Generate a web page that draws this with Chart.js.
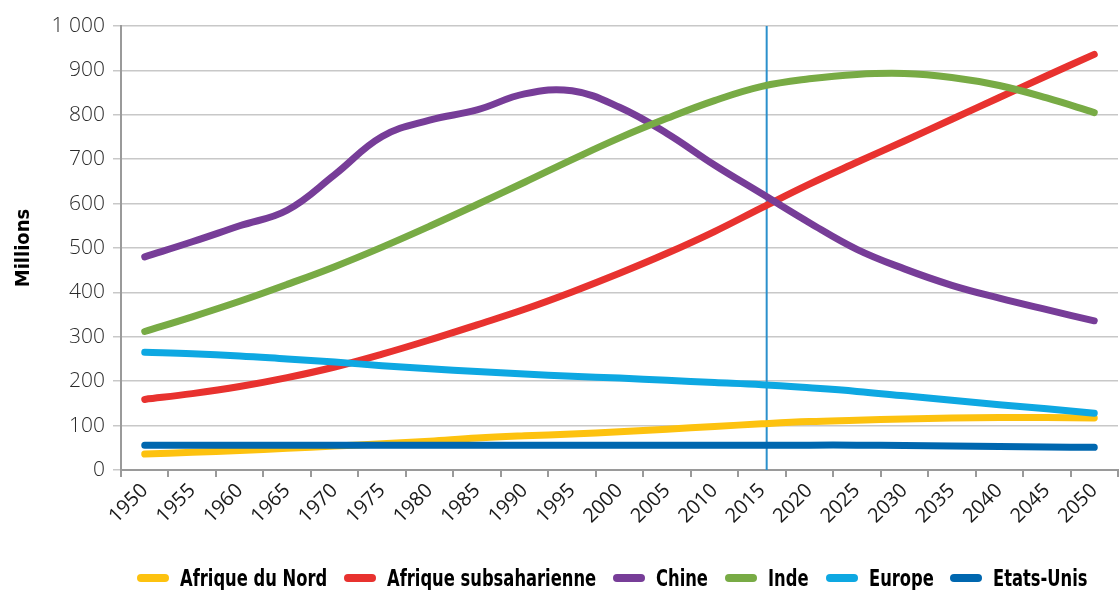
<!DOCTYPE html>
<html lang="fr">
<head>
<meta charset="utf-8">
<title>Population 1950-2050</title>
<script src="https://cdn.jsdelivr.net/npm/chart.js@4.4.1/dist/chart.umd.min.js"></script>
<style>
  html, body { margin: 0; padding: 0; background: #fff; }
  #wrap { width: 1119px; height: 590px; position: relative; }
  #legend {
    position: absolute; left: 137px; top: 563px; height: 30px;
    display: flex; align-items: center; white-space: nowrap;
    font-family: "DejaVu Sans Condensed", "DejaVu Sans", sans-serif;
    font-weight: bold; font-size: 23px; color: #000;
  }
  #legend .item { display: flex; align-items: center; margin-right: 17px; }
  #legend .sw { display: inline-block; width: 32px; height: 8px; border-radius: 4px; margin-right: 11px; }
  #legend .lbl { display: inline-block; }
  #legend .txt { display: inline-block; transform: scaleX(0.79); transform-origin: 0 50%; }
</style>
</head>
<body>
<div id="wrap"><canvas id="chart"></canvas><div id="legend"></div></div>
<script>
// ---------- data (millions) ----------
const years = ["1950", "1955", "1960", "1965", "1970", "1975", "1980", "1985", "1990", "1995", "2000",
               "2005", "2010", "2015", "2020", "2025", "2030", "2035", "2040", "2045", "2050"];

const afriqueNord = [36, 40, 44, 49, 54, 59, 65, 72, 77, 81, 86, 92, 98, 104, 109, 112, 115, 117, 118, 118, 117];
const afriqueSub  = [159, 172, 188, 208, 232, 261, 293, 327, 362, 401, 443, 488, 537, 591, 644, 693, 741, 790, 839, 888, 936];
const chine       = [480, 514, 550, 585, 665, 751, 788, 811, 847, 854, 817, 758, 687, 622, 557, 497, 453, 416, 387, 361, 336];
const inde        = [312, 345, 380, 418, 458, 502, 549, 598, 648, 699, 748, 792, 832, 864, 881, 891, 893, 884, 866, 838, 805];
const europe      = [265, 262, 257, 250, 243, 235, 228, 222, 216, 211, 207, 202, 197, 192, 185, 177, 167, 157, 147, 138, 128];
const etatsUnis   = [56, 56, 56, 56, 56, 56, 56, 56, 56, 56, 56, 56, 56, 56, 56, 56, 55, 54, 53, 52, 51];

const seriesNames = ["Afrique du Nord", "Afrique subsaharienne", "Chine", "Inde", "Europe", "Etats-Unis"];
const seriesColors = ["#FDC20F", "#E8322F", "#773D98", "#78AB45", "#0EA8E2", "#0067AF"];

const yTickValues = [0, 100, 200, 300, 400, 500, 600, 700, 800, 900, 1000];
const markerYear = 2015.5; // vertical line (today)

// ---------- helpers ----------
function frNumber(v) {
  return String(v).replace(/\B(?=(\d{3})+$)/g, " ");
}

const markerLine = {
  id: "markerLine",
  beforeDatasetsDraw(chart) {
    const xs = chart.scales.x;
    const base = Math.floor((markerYear - 1950) / 5);
    const frac = (markerYear - Number(years[base])) / 5;
    const p0 = xs.getPixelForValue(base);
    const p1 = xs.getPixelForValue(base + 1);
    const px = p0 + (p1 - p0) * frac;
    const ctx = chart.ctx;
    ctx.save();
    ctx.strokeStyle = "#2B90CC";
    ctx.lineWidth = 2;
    ctx.beginPath();
    ctx.moveTo(px, chart.chartArea.top);
    ctx.lineTo(px, chart.chartArea.bottom);
    ctx.stroke();
    ctx.restore();
  }
};

// ---------- chart ----------
const allSeries = [afriqueNord, afriqueSub, chine, inde, europe, etatsUnis];

const datasets = allSeries.map((vals, i) => ({
  label: seriesNames[i],
  data: vals,
  borderColor: seriesColors[i],
  backgroundColor: seriesColors[i],
  borderWidth: 7,
  borderCapStyle: "round",
  borderJoinStyle: "round",
  pointRadius: 0,
  pointHoverRadius: 0,
  tension: 0.4,
  order: allSeries.length - i // later series drawn on top, like the original
}));

new Chart(document.getElementById("chart"), {
  type: "line",
  data: { labels: years, datasets },
  plugins: [markerLine],
  options: {
    responsive: true,
    maintainAspectRatio: false,
    animation: false,
    layout: { padding: { top: 26, right: 1, left: 0, bottom: 0 } },
    plugins: {
      tooltip: { enabled: false },
      legend: { display: false }
    },
    scales: {
      x: {
        type: "category",
        offset: true,
        grid: {
          offset: true,
          drawOnChartArea: false,
          drawTicks: true,
          tickLength: 7,
          color: "#9a9a9a",
          lineWidth: 2
        },
        border: { color: "#9a9a9a", width: 2 },
        ticks: {
          autoSkip: false,
          maxRotation: 45,
          minRotation: 45,
          padding: 2,
          color: "#1a1a1a",
          font: { family: "'Open Sans', sans-serif", size: 20, weight: "normal" }
        },
        afterFit(axis) { axis.height = 120; }
      },
      y: {
        min: 0,
        max: 1000,
        afterBuildTicks(axis) { axis.ticks = yTickValues.map(v => ({ value: v })); },
        grid: {
          color: "#c8c8c8",
          lineWidth: 1.5,
          tickLength: 8,
          drawTicks: true
        },
        border: { color: "#9a9a9a", width: 2 },
        ticks: {
          padding: 8,
          color: "#2a2a2a",
          font: { family: "'Open Sans', sans-serif", size: 21, weight: "300" },
          callback: v => frNumber(v)
        },
        title: {
          display: true,
          text: "Millions",
          color: "#000",
          padding: { top: 12, bottom: 0 },
          font: { family: "'DejaVu Sans Condensed', 'DejaVu Sans', sans-serif", size: 20, weight: "bold" }
        },
        afterFit(axis) { axis.width = 121; }
      }
    }
  }
});

// ---------- legend (HTML, condensed bold like the original) ----------
const legendEl = document.getElementById("legend");
seriesNames.forEach((name, i) => {
  const item = document.createElement("div");
  item.className = "item";
  item.innerHTML = `<span class="sw" style="background:${seriesColors[i]}"></span>` +
                   `<span class="lbl"><span class="txt">${name}</span></span>`;
  legendEl.appendChild(item);
});
legendEl.querySelectorAll(".lbl").forEach(l => {
  const t = l.firstChild;
  l.style.width = (t.offsetWidth * 0.79) + "px";
});
</script>
</body>
</html>
